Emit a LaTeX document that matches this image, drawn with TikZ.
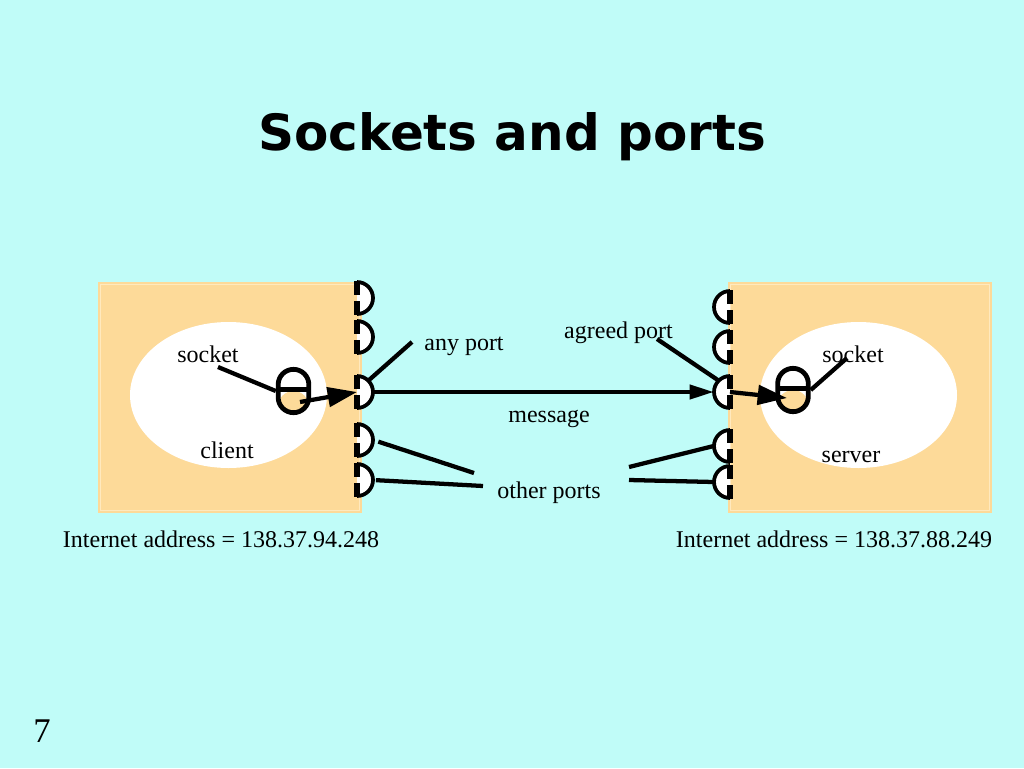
\documentclass[tikz,border=0pt]{standalone}
\usepackage{fontspec}
\setmainfont{Liberation Serif}
\newfontfamily\titlefont{DejaVu Sans}
\usetikzlibrary{arrows.meta,shapes.geometric,calc}
\definecolor{bg}{RGB}{192,252,248}
\definecolor{boxc}{RGB}{253,218,153}
\definecolor{boxedge}{RGB}{255,233,190}
\tikzset{
  lbl/.style={font=\fontsize{18}{20}\selectfont, inner sep=0pt, anchor=base},
  host/.style={fill=boxc},
  hostrim/.style={draw=boxedge, line width=1pt},
  hostin/.style={ellipse, fill=white, minimum width=147.75pt, minimum height=109.5pt, inner sep=0pt},
  sock/.style={draw, line width=3.6pt, rounded corners=11.5pt, minimum width=23pt, minimum height=32.5pt, inner sep=0pt,
    path picture={\fill[boxc] (path picture bounding box.west) rectangle (path picture bounding box.south east);
      \draw[line width=3.2pt] ([yshift=1.2pt]path picture bounding box.west) -- ([yshift=1.2pt]path picture bounding box.east);}},
  portanchor/.style={circle, minimum size=24pt, inner sep=0pt},
  lead/.style={line width=3.2pt},
  msg/.style={line width=3pt, -{Triangle[length=18pt,width=10.5pt]}},
  inarrow/.style={line width=3.2pt, -{Triangle[length=22pt,width=14.5pt]}},
  lport/.pic={
    \fill[white] (0pt,12pt) arc[start angle=90,end angle=-90,radius=12pt] -- cycle;
    \draw[line width=2.8pt] (0pt,12pt) arc[start angle=90,end angle=-90,radius=12pt];
    \draw[line width=3.8pt] (0pt,12.6pt) -- (0pt,2.6pt) (0pt,-2.6pt) -- (0pt,-12.6pt);
  },
  rport/.pic={
    \fill[white] (0pt,12pt) arc[start angle=90,end angle=270,radius=12pt] -- cycle;
    \draw[line width=2.8pt] (0pt,12pt) arc[start angle=90,end angle=270,radius=12pt];
    \draw[line width=3.8pt] (0pt,12.6pt) -- (0pt,2.6pt) (0pt,-2.6pt) -- (0pt,-12.6pt);
  }
}
\begin{document}
\begin{tikzpicture}[x=0.75pt,y=-0.75pt]
\useasboundingbox (0,0) rectangle (1024,768);
\fill[bg] (0,0) rectangle (1024,768);

% title
\node[font=\titlefont\bfseries\fontsize{37.5}{40}\selectfont, inner sep=0pt, anchor=base] (title) at (512,150) {Sockets and ports};

% hosts
\path[host] (98,282) rectangle (362,513);
\draw[hostrim] (100.5,284.5) rectangle (359.5,510.5);
\path[host] (728,282) rectangle (992,513);
\draw[hostrim] (730.5,284.5) rectangle (989.5,510.5);
\node[hostin] (lhost) at (228.5,395) {};
\node[hostin] (rhost) at (858.5,395) {};

% ports
\foreach \n/\y in {1/298,2/337,3/392,4/440,5/480}{
  \node[portanchor] (lp\n) at (357,\y) {};
  \pic at (lp\n) {lport};
}
\foreach \n/\y in {1/307,2/347,3/392,4/446,5/482}{
  \node[portanchor] (rp\n) at (730,\y) {};
  \pic at (rp\n) {rport};
}

% sockets
\node[sock] (ls) at (293.5,391) {};
\node[sock] (rs) at (793,390) {};

% labels
\node[lbl] (tsockl) at (208,362) {socket};
\node[lbl] (tclient) at (227,458) {client};
\node[lbl] (tsockr) at (853,362) {socket};
\node[lbl] (tserver) at (851,462) {server};
\node[lbl] (tany) at (464,350) {any port};
\node[lbl] (tagreed) at (618.5,338) {agreed port};
\node[lbl] (tmsg) at (549,422) {message};
\node[lbl] (tother) at (549,498) {other ports};
\node[lbl] (taddrl) at (221,547) {Internet address = 138.37.94.248};
\node[lbl] (taddrr) at (834,547) {Internet address = 138.37.88.249};
\node[font=\fontsize{26}{28}\selectfont, inner sep=0pt, anchor=base] (pagenum) at (42,742) {7};

% leader line ends
\coordinate (sockl) at (218,367);
\coordinate (sockr) at (847,358);
\coordinate (anyend) at (412,342);
\coordinate (agreedend) at (657,339);
\coordinate (op1) at (474,473);
\coordinate (op2) at (483,486);
\coordinate (op3) at (629,467);
\coordinate (op4) at (629,480);
\coordinate (lsout) at (300,402);
\coordinate (rsin) at (787,398);

% leader lines
\draw[lead] (sockl) -- (ls.west);
\draw[lead] (sockr) -- (rs.east);
\draw[lead] (anyend) -- (lp3.north east);
\draw[lead] (agreedend) -- (rp3.north west);
\draw[lead, shorten <=4pt] (lp4.east) -- (op1);
\draw[lead, shorten <=2pt] (lp5.east) -- (op2);
\draw[lead] (op3) -- (rp4.west);
\draw[lead] (op4) -- (rp5.west);

% arrows
\draw[msg] (lp3.east) -- (rp3.west);
\draw[inarrow] (lsout) -- (lp3.center);
\draw[inarrow] (rp3.center) -- (rsin);
\end{tikzpicture}
\end{document}
